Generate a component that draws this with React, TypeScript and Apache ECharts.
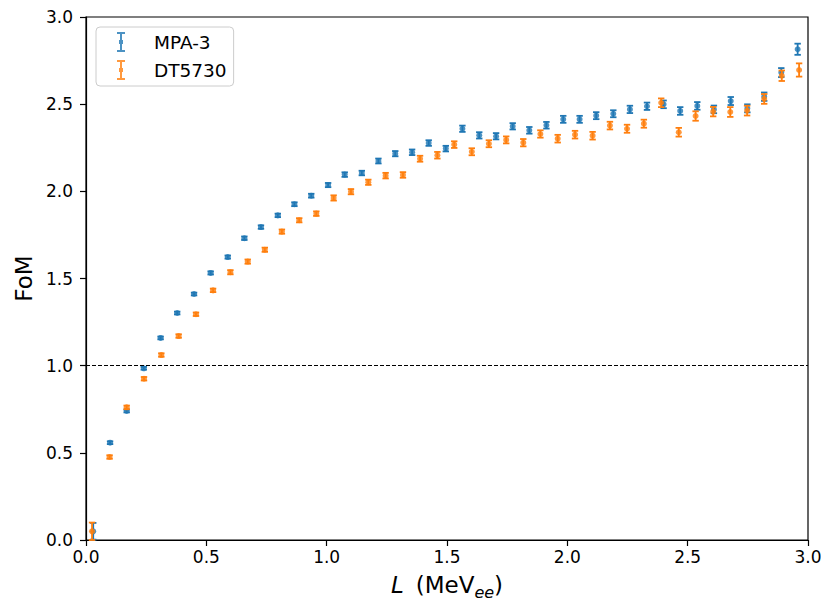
import React, { useEffect, useRef } from 'react';
import * as echarts from 'echarts';

// MPA-3 (blue)
const mpaX = [0.030, 0.100, 0.169, 0.240, 0.310, 0.379, 0.449, 0.518, 0.589, 0.658, 0.727, 0.797, 0.866, 0.936, 1.006, 1.075, 1.146, 1.215, 1.285, 1.355, 1.424, 1.495, 1.564, 1.634, 1.704, 1.773, 1.842, 1.913, 1.983, 2.051, 2.120, 2.191, 2.260, 2.331, 2.400, 2.469, 2.540, 2.609, 2.679, 2.748, 2.818, 2.889, 2.957];
const mpaY = [0.050, 0.558, 0.740, 0.985, 1.159, 1.302, 1.411, 1.532, 1.623, 1.731, 1.795, 1.862, 1.926, 1.975, 2.036, 2.096, 2.105, 2.174, 2.216, 2.224, 2.277, 2.245, 2.359, 2.321, 2.316, 2.373, 2.350, 2.379, 2.413, 2.413, 2.434, 2.445, 2.470, 2.488, 2.499, 2.461, 2.490, 2.470, 2.518, 2.476, 2.543, 2.681, 2.815];
const mpaErr = [0.048, 0.008, 0.008, 0.008, 0.008, 0.008, 0.008, 0.009, 0.009, 0.010, 0.010, 0.010, 0.011, 0.011, 0.012, 0.013, 0.013, 0.014, 0.015, 0.016, 0.016, 0.016, 0.018, 0.018, 0.018, 0.018, 0.019, 0.019, 0.020, 0.020, 0.020, 0.020, 0.021, 0.021, 0.022, 0.022, 0.022, 0.022, 0.023, 0.023, 0.024, 0.026, 0.032];

// DT5730 (orange)
const dtX = [0.025, 0.098, 0.169, 0.241, 0.313, 0.385, 0.457, 0.528, 0.600, 0.672, 0.743, 0.814, 0.886, 0.957, 1.029, 1.101, 1.173, 1.245, 1.317, 1.388, 1.460, 1.530, 1.603, 1.674, 1.746, 1.817, 1.888, 1.960, 2.032, 2.105, 2.177, 2.248, 2.318, 2.390, 2.463, 2.533, 2.606, 2.677, 2.747, 2.818, 2.891, 2.963];
const dtY = [0.050, 0.476, 0.761, 0.925, 1.061, 1.170, 1.295, 1.432, 1.536, 1.597, 1.665, 1.769, 1.834, 1.872, 1.962, 1.998, 2.052, 2.090, 2.094, 2.187, 2.207, 2.268, 2.227, 2.273, 2.295, 2.279, 2.329, 2.302, 2.325, 2.319, 2.377, 2.359, 2.388, 2.508, 2.339, 2.432, 2.457, 2.455, 2.463, 2.530, 2.663, 2.696];
const dtErr = [0.050, 0.010, 0.010, 0.010, 0.010, 0.010, 0.010, 0.010, 0.012, 0.012, 0.012, 0.012, 0.012, 0.013, 0.015, 0.015, 0.015, 0.016, 0.016, 0.017, 0.019, 0.019, 0.020, 0.020, 0.020, 0.021, 0.021, 0.022, 0.022, 0.022, 0.022, 0.023, 0.023, 0.025, 0.025, 0.027, 0.027, 0.028, 0.028, 0.028, 0.030, 0.038];

const seriesNames = ['MPA-3', 'DT5730'];
const refLine = 1.0;

const BLUE = '#1f77b4';
const ORANGE = '#ff7f0e';
const FONT = 'DejaVu Sans';

const ICON =
  'path://M0,0h8v2h-8z M3,0h2v20h-2z M0,18h8v2h-8z M2,8h4v4h-4z';

function errorSeries(name: string, xs: number[], ys: number[], es: number[], color: string, z: number) {
  return {
    type: 'custom',
    name: name + ' error',
    z,
    silent: true,
    clip: false,
    encode: { x: 0, y: [1, 2] },
    data: xs.map((x, i) => [x, ys[i] - es[i], ys[i] + es[i]]),
    renderItem: (_params: any, api: any) => {
      const lo = api.coord([api.value(0), api.value(1)]);
      const hi = api.coord([api.value(0), api.value(2)]);
      const cap = 3.2;
      const style = { stroke: color, lineWidth: 1.8, fill: null };
      return {
        type: 'group',
        children: [
          { type: 'line', shape: { x1: lo[0], y1: lo[1], x2: hi[0], y2: hi[1] }, style },
          { type: 'line', shape: { x1: lo[0] - cap, y1: lo[1], x2: lo[0] + cap, y2: lo[1] }, style },
          { type: 'line', shape: { x1: hi[0] - cap, y1: hi[1], x2: hi[0] + cap, y2: hi[1] }, style },
        ],
      };
    },
  };
}

export default function App() {
  const ref = useRef<HTMLDivElement>(null);
  useEffect(() => {
    if (!ref.current) return;
    const chart = echarts.init(ref.current, undefined, { renderer: 'svg' });
    const axisCommon = {
      type: 'value',
      min: 0,
      max: 3,
      interval: 0.5,
      axisLine: { show: true, onZero: false, lineStyle: { color: '#000', width: 1.2 } },
      axisTick: { show: true, inside: false, length: 6, lineStyle: { color: '#000', width: 1.2 } },
      splitLine: { show: false },
      axisLabel: {
        color: '#000',
        fontFamily: FONT,
        fontSize: 17,
        formatter: (v: number) => v.toFixed(1),
      },
    };
    chart.setOption({
      animation: false,
      backgroundColor: '#fff',
      grid: {
        left: 86,
        right: 13,
        top: 17,
        bottom: 62,
        containLabel: false,
        outerBoundsMode: 'none',
        show: true,
        borderColor: '#000',
        borderWidth: 1.2,
        backgroundColor: 'transparent',
      },
      xAxis: {
        ...axisCommon,
        axisLabel: { ...axisCommon.axisLabel, margin: 8 },
        name: '{i|L}(MeV{s|ee})',
        nameLocation: 'middle',
        nameGap: 30,
        nameTextStyle: {
          color: '#000',
          fontFamily: FONT,
          fontSize: 23,
          lineHeight: 30,
          rich: {
            i: { fontFamily: FONT, fontSize: 23, fontStyle: 'italic', color: '#000', lineHeight: 30, padding: [0, 12, 0, 0] },
            s: { fontFamily: FONT, fontSize: 16, fontStyle: 'italic', color: '#000', lineHeight: 15, verticalAlign: 'bottom' },
          },
        },
      },
      yAxis: {
        ...axisCommon,
        axisLabel: { ...axisCommon.axisLabel, margin: 13 },
        name: 'FoM',
        nameLocation: 'middle',
        nameGap: 35,
        nameTextStyle: { color: '#000', fontFamily: FONT, fontSize: 23 },
      },
      legend: {
        orient: 'vertical',
        left: 96,
        top: 27,
        padding: [5, 7, 6, 21],
        itemGap: 8,
        itemWidth: 8,
        itemHeight: 20,
        backgroundColor: 'rgba(255,255,255,0.8)',
        borderColor: '#cccccc',
        borderWidth: 1,
        borderRadius: 4,
        selectedMode: false,
        textStyle: { fontFamily: FONT, fontSize: 18.5, color: '#000', padding: [0, 0, 0, 24] },
        data: seriesNames.map((n) => ({ name: n, icon: ICON })),
      },
      series: [
        errorSeries(seriesNames[0], mpaX, mpaY, mpaErr, BLUE, 2),
        {
          type: 'scatter',
          name: seriesNames[0],
          z: 3,
          symbol: 'circle',
          symbolSize: 6,
          itemStyle: { color: BLUE },
          data: mpaX.map((x, i) => [x, mpaY[i]]),
          markLine: {
            silent: true,
            symbol: 'none',
            label: { show: false },
            lineStyle: { color: '#000', width: 1, type: [4, 2] },
            data: [{ yAxis: refLine }],
          },
        },
        errorSeries(seriesNames[1], dtX, dtY, dtErr, ORANGE, 4),
        {
          type: 'scatter',
          name: seriesNames[1],
          z: 5,
          symbol: 'circle',
          symbolSize: 6,
          itemStyle: { color: ORANGE },
          data: dtX.map((x, i) => [x, dtY[i]]),
        },
      ],
    });
    return () => chart.dispose();
  }, []);
  return <div ref={ref} style={{ width: 821, height: 602, position: 'absolute', left: 0, top: 0 }} />;
}
